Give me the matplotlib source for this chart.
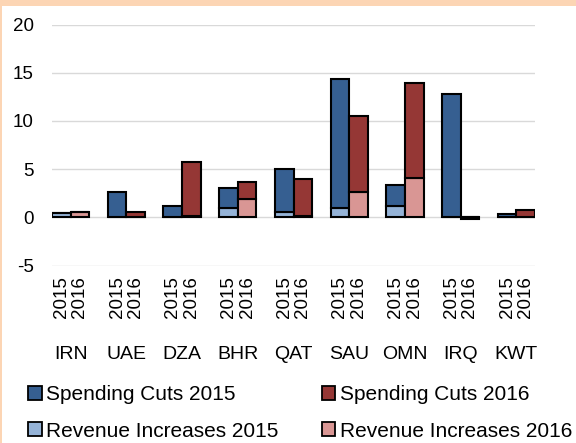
import matplotlib
matplotlib.use("Agg")
import matplotlib.pyplot as plt
from matplotlib.patches import Patch, Rectangle
from matplotlib.transforms import blended_transform_factory
import numpy as np

plt.rcParams['font.family'] = ['Liberation Sans', 'DejaVu Sans']

countries = ['IRN', 'UAE', 'DZA', 'BHR', 'QAT', 'SAU', 'OMN', 'IRQ', 'KWT']
years = ['2015', '2016']
revenue_2015 = [0.4, 0.0, 0.0, 1.0, 0.55, 1.0, 1.15, 0.0, 0.0]
spending_2015 = [0.0, 2.6, 1.2, 2.05, 4.5, 13.35, 2.25, 12.75, 0.35]
revenue_2016 = [0.6, 0.0, 0.1, 1.95, 0.1, 2.6, 4.05, 0.0, 0.0]
spending_2016 = [0.0, 0.6, 5.6, 1.7, 3.9, 7.9, 9.9, -0.2, 0.8]
yticks = [-5, 0, 5, 10, 15, 20]

c_sp15 = '#365F91'
c_sp16 = '#953735'
c_rv15 = '#95B3D7'
c_rv16 = '#D99694'
beige = '#FCD5B4'

fig = plt.figure(figsize=(5.76, 4.43), dpi=100)
fig.patch.set_facecolor(beige)
fig.add_artist(Rectangle((2/576, 0), 1, 1 - 6/443, transform=fig.transFigure,
                         facecolor='white', edgecolor='none', zorder=-10))

ax = fig.add_axes([52/576, 1 - 265.5/443, (535-52)/576, (265.5-24.5)/443])
ax.set_facecolor('none')

n = len(countries)
x15 = np.arange(n) * 3
x16 = x15 + 1
lw = 1.5
ax.bar(x15, revenue_2015, width=1.0, color=c_rv15, edgecolor='black', linewidth=lw, zorder=3)
ax.bar(x15, spending_2015, bottom=revenue_2015, width=1.0, color=c_sp15, edgecolor='black', linewidth=lw, zorder=3)
ax.bar(x16, revenue_2016, width=1.0, color=c_rv16, edgecolor='black', linewidth=lw, zorder=3)
ax.bar(x16, spending_2016, bottom=revenue_2016, width=1.0, color=c_sp16, edgecolor='black', linewidth=lw, zorder=3)

ax.set_xlim(-0.5, 3 * n - 1 - 0.5)
ax.set_ylim(-5, 20)
ax.set_yticks(yticks)
ax.set_yticklabels([str(v) for v in yticks], fontsize=13.5)
ax.tick_params(axis='y', length=0, pad=13)
ax.grid(axis='y', color='#D9D9D9', linewidth=1.0, zorder=0)
ax.set_axisbelow(True)
for s in ax.spines.values():
    s.set_visible(False)

xt = np.sort(np.concatenate([x15, x16]))
xl = []
for i in range(n):
    xl += years
ax.set_xticks(xt)
ax.set_xticklabels(xl, rotation=90, fontsize=13.5, va='top', ha='center')
ax.tick_params(axis='x', length=0, pad=8)

trans = blended_transform_factory(ax.transData, fig.transFigure)
for i, c in enumerate(countries):
    ax.text(x15[i] + 0.5, 1 - 359/443, c, transform=trans, ha='center', va='baseline', fontsize=14)

handles = [Patch(facecolor=c_sp15, edgecolor='black', linewidth=1.3),
           Patch(facecolor=c_rv15, edgecolor='black', linewidth=1.3),
           Patch(facecolor=c_sp16, edgecolor='black', linewidth=1.3),
           Patch(facecolor=c_rv16, edgecolor='black', linewidth=1.3)]
labels = ['Spending Cuts 2015', 'Revenue Increases 2015', 'Spending Cuts 2016', 'Revenue Increases 2016']
fig.legend(handles, labels, ncol=2, loc='upper left', bbox_to_anchor=(28/576, 1 - 385/443),
           frameon=False, fontsize=15, handlelength=0.65, handleheight=0.65, handletextpad=0.2,
           columnspacing=2.1, labelspacing=0.85, borderpad=0, borderaxespad=0)

fig.savefig('out.png', dpi=100, facecolor=fig.get_facecolor())
